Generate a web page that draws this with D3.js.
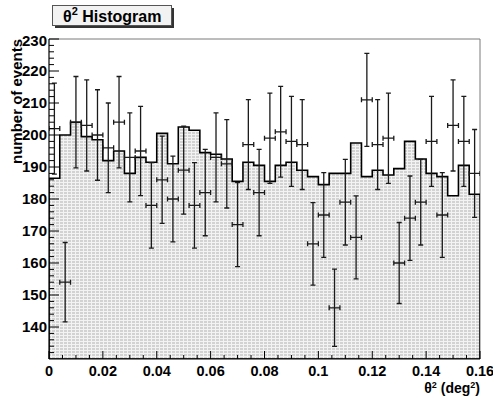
<!DOCTYPE html>
<html>
<head>
<meta charset="utf-8">
<script src="https://cdn.jsdelivr.net/npm/d3@7"></script>
<style>
  body { margin: 0; background: #fff; }
  text { font-family: "Liberation Sans", Arial, Helvetica, sans-serif; font-weight: bold; }
</style>
</head>
<body>
<div id="chart"></div>
<script>
// histogram binning: 40 bins over theta^2 = [0, 0.16]
const binCount = 40;
const xRange = [0, 0.16];
const yRange = [130, 230];

// simulated / background histogram (filled)
const histValues = [
  186.5, 200, 204, 199.5, 198.5, 192, 195, 188, 193, 191.5,
  200.5, 191, 202.5, 201.5, 194.5, 194, 192.5, 185.5, 191.5, 190.5,
  185.5, 190.5, 191.5, 189, 187, 184.5, 188, 188, 197.5, 187,
  189, 187.5, 189.5, 198, 192.5, 188, 187, 181, 190.5, 181.5
];

// measured events (points with sqrt(N) errors)
const dataValues = [
  202, 154, 204, 203, 200, 196, 204, 193, 195, 178,
  186, 180, 189, 178, 182, 193, 191, 172, 197, 182,
  199, 201, 198, 197, 166, 175, 146, 179, 168, 211,
  197, 199, 160, 174, 179, 198, 175, 203, 198, 188
];

const xTickValues = [0, 0.02, 0.04, 0.06, 0.08, 0.1, 0.12, 0.14, 0.16];
const xTickLabels = ["0", "0.02", "0.04", "0.06", "0.08", "0.1", "0.12", "0.14", "0.16"];
const yTickValues = [140, 150, 160, 170, 180, 190, 200, 210, 220, 230];

const width = 493, height = 398;
const fLeft = 49, fRight = 480, fTop = 39, fBottom = 359;

const x = d3.scaleLinear().domain(xRange).range([fLeft, fRight]);
const y = d3.scaleLinear().domain(yRange).range([fBottom, fTop]);
const binWidth = (xRange[1] - xRange[0]) / binCount;

const svg = d3.select("#chart").append("svg")
    .attr("width", width)
    .attr("height", height);

svg.append("rect").attr("width", width).attr("height", height).attr("fill", "#fff");

const defs = svg.append("defs");
const pat = defs.append("pattern")
    .attr("id", "dots")
    .attr("patternUnits", "userSpaceOnUse")
    .attr("width", 4).attr("height", 3);
pat.append("rect").attr("width", 4).attr("height", 3).attr("fill", "#f3f3f3");
pat.append("rect").attr("width", 3).attr("height", 2).attr("fill", "#d2d2d2");

defs.append("clipPath").attr("id", "frame")
  .append("rect")
    .attr("x", fLeft).attr("y", fTop)
    .attr("width", fRight - fLeft).attr("height", fBottom - fTop);

// frame (top / right)
svg.append("path")
    .attr("d", `M${fLeft},${fTop}H${fRight}V${fBottom}`)
    .attr("fill", "none")
    .attr("stroke", "#7a7a7a")
    .attr("stroke-width", 1);

const plot = svg.append("g").attr("clip-path", "url(#frame)");

// histogram shape
const hp = d3.path();
hp.moveTo(x(xRange[0]), y(yRange[0]));
histValues.forEach((v, i) => {
  const lo = xRange[0] + i * binWidth;
  hp.lineTo(x(lo), y(v));
  hp.lineTo(x(lo + binWidth), y(v));
});
hp.lineTo(x(xRange[1]), y(yRange[0]));
hp.closePath();

plot.append("path")
    .attr("d", hp.toString())
    .attr("fill", "url(#dots)")
    .attr("stroke", "#000")
    .attr("stroke-width", 1.6)
    .attr("stroke-linejoin", "miter");

// error bars
const eb = plot.append("g")
    .attr("stroke", "#1a1a1a")
    .attr("stroke-width", 1.3)
    .attr("fill", "none");

dataValues.forEach((v, i) => {
  const lo = xRange[0] + i * binWidth;
  const cx = x(lo + binWidth / 2);
  const e = Math.sqrt(v);
  const yTop = y(v + e), yBot = y(v - e), cy = y(v);
  const x0 = x(lo), x1 = x(lo + binWidth);
  eb.append("path").attr("d",
    `M${cx},${yTop}V${yBot}` +
    `M${cx - 2.5},${yTop}H${cx + 2.5}` +
    `M${cx - 2.5},${yBot}H${cx + 2.5}` +
    `M${x0},${cy}H${x1}` +
    `M${x0},${cy - 2.5}V${cy + 2.5}` +
    `M${x1},${cy - 2.5}V${cy + 2.5}`);
});

// y axis
const yAxis = svg.append("g");
yAxis.append("line")
    .attr("x1", fLeft).attr("x2", fLeft)
    .attr("y1", fTop).attr("y2", fBottom)
    .attr("stroke", "#000").attr("stroke-width", 1.2);
d3.range(132, 231, 2).forEach(t => {
  const major = t % 10 === 0;
  yAxis.append("line")
      .attr("x1", fLeft).attr("x2", fLeft + (major ? 10 : 5))
      .attr("y1", y(t)).attr("y2", y(t))
      .attr("stroke", "#000").attr("stroke-width", 1);
});
yAxis.selectAll("text.ylab")
  .data(yTickValues)
  .join("text")
    .attr("class", "ylab")
    .attr("x", fLeft - 2)
    .attr("y", d => y(d) + (d === 230 ? 2 : 0))
    .attr("dy", "0.36em")
    .attr("text-anchor", "end")
    .attr("font-size", 15)
    .text(d => d);

// x axis
const xAxis = svg.append("g");
xAxis.append("line")
    .attr("x1", fLeft).attr("x2", fRight)
    .attr("y1", fBottom).attr("y2", fBottom)
    .attr("stroke", "#000").attr("stroke-width", 1.2);
d3.range(0, 33).forEach(k => {
  const t = k * 0.005;
  const major = k % 4 === 0;
  xAxis.append("line")
      .attr("x1", x(t)).attr("x2", x(t))
      .attr("y1", fBottom).attr("y2", fBottom - (major ? 8 : 4))
      .attr("stroke", "#000").attr("stroke-width", 1);
});
xAxis.selectAll("text.xlab")
  .data(xTickValues)
  .join("text")
    .attr("class", "xlab")
    .attr("x", d => x(d))
    .attr("y", fBottom + 17)
    .attr("text-anchor", "middle")
    .attr("font-size", 14.5)
    .text((d, i) => xTickLabels[i]);

// axis titles
const xt = svg.append("text")
    .attr("x", fRight)
    .attr("y", 393)
    .attr("text-anchor", "end")
    .attr("font-size", 14);
xt.append("tspan").text("θ");
xt.append("tspan").attr("dy", -5).attr("font-size", 9).text("2");
xt.append("tspan").attr("dy", 5).text(" (deg");
xt.append("tspan").attr("dy", -5).attr("font-size", 9).text("2");
xt.append("tspan").attr("dy", 5).text(")");

svg.append("text")
    .attr("transform", `translate(22,${fTop}) rotate(-90)`)
    .attr("text-anchor", "end")
    .attr("font-size", 15)
    .text("number of events");

// title box
svg.append("rect")
    .attr("x", 55).attr("y", 8).attr("width", 119).attr("height", 20)
    .attr("fill", "#333");
svg.append("rect")
    .attr("x", 52.5).attr("y", 5.5).attr("width", 119).attr("height", 20)
    .attr("fill", "#f2f2f2")
    .attr("stroke", "#555").attr("stroke-width", 1);
const tt = svg.append("text")
    .attr("x", 63)
    .attr("y", 22)
    .attr("font-size", 16);
tt.append("tspan").text("θ");
tt.append("tspan").attr("dy", -7).attr("font-size", 11).text("2");
tt.append("tspan").attr("dy", 7).text(" Histogram");
</script>
</body>
</html>
